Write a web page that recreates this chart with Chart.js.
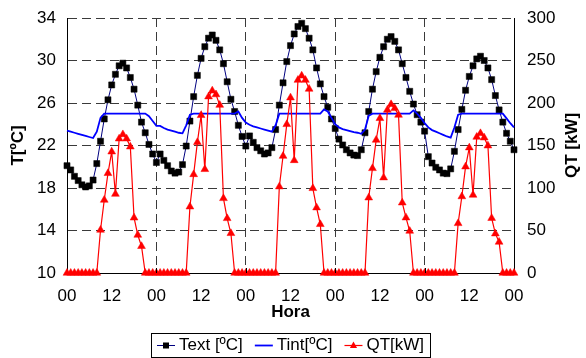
<!DOCTYPE html>
<html>
<head>
<meta charset="utf-8">
<script src="https://cdn.jsdelivr.net/npm/chart.js@4.4.1/dist/chart.umd.min.js"></script>
<style>
  html, body { margin: 0; padding: 0; background: #fff; }
  #wrap { width: 586px; height: 358px; }
</style>
</head>
<body>
<div id="wrap"><canvas id="chart"></canvas></div>
<script>
// hours 0..120 over five days
const hours = Array.from({ length: 121 }, (_, i) => i);
const hourText = ['00', '12'];

// outdoor temperature [ºC]
const textT = [
  20.1, 19.7, 19.1, 18.7, 18.3, 18.1, 18.2, 18.75, 20.3, 22.4, 24.5, 26.3, 27.7, 28.7, 29.5, 29.75, 29.3, 28.4, 27.3, 25.8, 24.2, 23.2, 22.1, 21.2,
  20.4, 21.2, 20.6, 20.1, 19.6, 19.4, 19.5, 20.2, 21.95, 24.3, 26.6, 28.6, 30.2, 31.3, 32.1, 32.4, 31.9, 31.0, 29.7, 28.0, 26.35, 25.2, 23.9, 22.85,
  21.95, 22.9, 22.3, 21.8, 21.5, 21.2, 21.3, 21.8, 23.5, 25.8, 27.9, 29.9, 31.4, 32.5, 33.2, 33.5, 33.0, 32.1, 31.0, 29.3, 27.8, 26.6, 25.6, 24.5,
  23.6, 22.6, 22.05, 21.6, 21.3, 21.1, 21.05, 21.6, 23.2, 25.2, 27.3, 28.95, 30.3, 31.3, 32.0, 32.25, 31.8, 31.0, 29.7, 28.4, 27.1, 25.9, 24.9, 24.2,
  23.35, 20.95, 20.35, 19.95, 19.7, 19.4, 19.35, 19.8, 21.45, 23.5, 25.4, 27.2, 28.5, 29.5, 30.15, 30.4, 30.0, 29.3, 28.2, 26.7, 25.35, 24.2, 23.15, 22.4, 21.6
];

// indoor temperature [ºC]
const tintT = [
  23.4, 23.3, 23.2, 23.1, 23.0, 22.9, 22.8, 22.7, 23.3, 24.6, 25.0, 25.0, 25.0, 25.0, 25.0, 25.0, 25.0, 25.0, 25.0, 25.0, 25.0, 25.0, 24.75, 24.3,
  23.85, 23.85, 23.65, 23.5, 23.4, 23.3, 23.2, 23.15, 23.9, 24.9, 25.0, 25.0, 25.0, 25.0, 25.0, 25.0, 25.0, 25.0, 25.0, 25.0, 25.0, 25.0, 25.2, 24.6,
  24.15, 23.95, 23.8, 23.7, 23.6, 23.5, 23.4, 23.3, 23.9, 25.0, 25.0, 25.0, 25.0, 25.0, 25.0, 25.0, 25.0, 25.0, 25.0, 25.0, 25.0, 25.4, 25.2, 24.6,
  24.0, 23.7, 23.55, 23.45, 23.35, 23.25, 23.2, 23.1, 23.5, 24.8, 25.0, 25.0, 25.0, 25.0, 25.0, 25.0, 25.0, 25.0, 25.0, 25.0, 25.0, 25.3, 25.0, 24.6,
  24.1, 23.7, 23.45, 23.3, 23.15, 23.0, 22.85, 22.75, 23.7, 24.9, 25.0, 25.0, 25.0, 25.0, 25.0, 25.0, 25.0, 25.0, 25.0, 25.0, 25.0, 25.0, 24.55, 24.1, 23.7
];

// cooling load [kW]
const qtKW = [
  0, 0, 0, 0, 0, 0, 0, 0, 0, 50.6, 85.9, 117.3, 142.7, 92.9, 158, 163, 158, 148.6, 65, 44.7, 31.5, 0, 0, 0,
  0, 0, 0, 0, 0, 0, 0, 0, 0, 78, 116, 153.7, 185.5, 122, 207.5, 214.5, 210, 197.6, 87.8, 64.3, 46.7, 0, 0, 0,
  0, 0, 0, 0, 0, 0, 0, 0, 0, 101.6, 137.6, 174.9, 206.3, 132.5, 227, 232, 227, 216.5, 99.6, 76.9, 57.3, 0, 0, 0,
  0, 0, 0, 0, 0, 0, 0, 0, 0, 88.6, 123.1, 156.5, 182, 112.2, 191.8, 198.4, 193.7, 185.9, 82.7, 65.1, 49.4, 0, 0, 0,
  0, 0, 0, 0, 0, 0, 0, 0, 0, 58.4, 90, 125.1, 147.5, 91.8, 160, 164.3, 159.2, 149.8, 64.5, 46.3, 36.5, 0, 0, 0, 0
];

const FONT = "'Liberation Sans', Arial, sans-serif";
Chart.defaults.font.family = FONT;
Chart.defaults.font.size = 17;
Chart.defaults.color = '#000';

// legend in a box under the axis + right axis title read bottom-to-top
const extras = {
    id: 'extras',
    afterDraw(chart) {
        const ctx = chart.ctx;
        const area = chart.chartArea;
        ctx.save();

        // small inside tick marks at day boundaries
        const xs = chart.scales.x;
        ctx.strokeStyle = '#000';
        ctx.lineWidth = 1;
        for (let i = 24; i < 120; i += 24) {
            const px = Math.round(xs.getPixelForValue(i)) + 0.5;
            ctx.beginPath();
            ctx.moveTo(px, area.bottom);
            ctx.lineTo(px, area.bottom - 5);
            ctx.stroke();
        }

        // right title
        ctx.font = 'bold 17px ' + FONT;
        ctx.fillStyle = '#000';
        ctx.textAlign = 'center';
        ctx.textBaseline = 'middle';
        ctx.translate(572, (area.top + area.bottom) / 2);
        ctx.rotate(-Math.PI / 2);
        ctx.fillText('QT [kW]', 0, 0);
        ctx.setTransform(1, 0, 0, 1, 0, 0);

        // legend
        ctx.font = '17px ' + FONT;
        const sample = 18, gapText = 4, gapItem = 12, pad = 6;
        const items = chart.data.datasets.map(ds => ({ ds, w: ctx.measureText(ds.label).width }));
        let total = pad * 2 + gapItem * (items.length - 1);
        items.forEach(it => { total += sample + gapText + it.w; });
        const cx = (area.left + area.right) / 2;
        const x0 = Math.round(cx - total / 2);
        const top = 333, h = 24;
        ctx.strokeStyle = '#000';
        ctx.lineWidth = 1;
        ctx.strokeRect(x0 + 0.5, top + 0.5, Math.round(total), h);
        let x = x0 + pad;
        const y = top + h / 2 + 0.5;
        items.forEach(it => {
            const ds = it.ds;
            ctx.strokeStyle = ds.borderColor;
            ctx.lineWidth = ds.borderWidth;
            ctx.beginPath();
            ctx.moveTo(x, y);
            ctx.lineTo(x + sample, y);
            ctx.stroke();
            const mx = x + sample / 2;
            ctx.fillStyle = ds.pointBackgroundColor;
            if (ds.pointStyle === 'rect') {
                ctx.fillRect(mx - 3, y - 3, 6, 6);
            } else if (ds.pointStyle === 'triangle') {
                ctx.beginPath();
                ctx.moveTo(mx, y - 4);
                ctx.lineTo(mx + 3.6, y + 2.5);
                ctx.lineTo(mx - 3.6, y + 2.5);
                ctx.closePath();
                ctx.fill();
            }
            ctx.fillStyle = '#000';
            ctx.textAlign = 'left';
            ctx.textBaseline = 'middle';
            ctx.fillText(ds.label, x + sample + gapText, y);
            x += sample + gapText + it.w + gapItem;
        });
        ctx.restore();
    }
};

const gridColor = '#3a3a3a';
const gridDash = [9, 5];

new Chart(document.getElementById('chart'), {
    type: 'line',
    data: {
        labels: hours,
        datasets: [
            {
                label: 'Text [ºC]',
                data: textT,
                yAxisID: 'y',
                borderColor: '#000080',
                borderWidth: 1,
                pointStyle: 'rect',
                pointRadius: 4.3,
                pointBackgroundColor: '#000',
                pointBorderColor: '#000',
                pointBorderWidth: 0.5,
                order: 3,
                clip: 8
            },
            {
                label: 'Tint[ºC]',
                data: tintT,
                yAxisID: 'y',
                borderColor: '#0000ff',
                borderWidth: 1.8,
                pointRadius: 0,
                order: 2,
                clip: 8
            },
            {
                label: 'QT[kW]',
                data: qtKW,
                yAxisID: 'y2',
                borderColor: '#ff0000',
                borderWidth: 1.2,
                pointStyle: 'triangle',
                pointRadius: 4.5,
                pointBackgroundColor: '#ff0000',
                pointBorderColor: '#ff0000',
                pointBorderWidth: 0.5,
                order: 1,
                clip: 8
            }
        ]
    },
    options: {
        responsive: true,
        maintainAspectRatio: false,
        animation: false,
        events: [],
        layout: { padding: { top: 18, bottom: 35, left: 0, right: 0 } },
        plugins: {
            legend: { display: false },
            tooltip: { enabled: false }
        },
        scales: {
            x: {
                type: 'category',
                offset: false,
                afterFit(scale) { scale.height = 50; },
                grid: {
                    drawTicks: false,
                    color: (c) => (c.index % 24 === 0 && c.index > 0 && c.index < 120) ? gridColor : 'rgba(0,0,0,0)'
                },
                border: { display: true, color: '#000', width: 1, dash: gridDash },
                ticks: {
                    autoSkip: false,
                    maxRotation: 0,
                    minRotation: 0,
                    padding: 13,
                    callback: (v, i) => (i % 12 === 0 ? hourText[(i / 12) % 2] : '')
                },
                title: {
                    display: true,
                    text: 'Hora',
                    font: { weight: 'bold', size: 17 },
                    padding: { top: 0, bottom: 0 }
                }
            },
            y: {
                position: 'left',
                min: 10,
                max: 34,
                afterFit(scale) {
                    scale.width = 67;
                    scale.paddingTop = 0;
                    scale.paddingBottom = 0;
                },
                grid: {
                    drawTicks: false,
                    color: (c) => (c.tick && c.tick.value === 10) ? 'rgba(0,0,0,0)' : gridColor
                },
                border: { display: true, color: '#000', width: 1, dash: gridDash },
                ticks: { stepSize: 4, padding: 11 },
                title: {
                    display: true,
                    text: 'T[ºC]',
                    font: { weight: 'bold', size: 17 },
                    padding: { top: 8, bottom: 0 }
                }
            },
            y2: {
                position: 'right',
                min: 0,
                max: 300,
                afterFit(scale) {
                    scale.width = 72;
                    scale.paddingTop = 0;
                    scale.paddingBottom = 0;
                },
                grid: { drawOnChartArea: false, drawTicks: false },
                border: { display: true, color: '#000', width: 1 },
                ticks: { stepSize: 50, padding: 13 }
            }
        }
    },
    plugins: [extras]
});
</script>
</body>
</html>
